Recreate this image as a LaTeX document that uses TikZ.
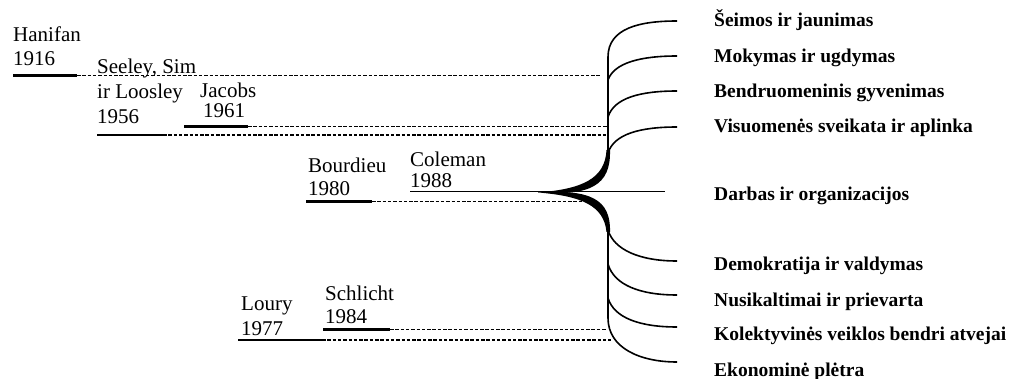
\documentclass[tikz,border=0pt]{standalone}
\usepackage{fontspec}
\setmainfont{Liberation Serif}
\begin{document}
\begin{tikzpicture}[x=1pt,y=-1pt,
  auth/.style={anchor=base west, inner sep=0pt, font=\fontsize{21}{21}\selectfont},
  topic/.style={anchor=base west, inner sep=0pt, font=\fontsize{19.5}{20}\selectfont\bfseries},
  solidln/.style={line width=2.5pt},
  dashln/.style={line width=1.6pt, dash pattern=on 3.5pt off 1.8pt},
  branch/.style={line width=1.6pt},
  thinln/.style={line width=1pt}]
\useasboundingbox (0,0) rectangle (1014,379);

% ---- author labels ----
\node[auth] (han)  at (13,41.7) {Hanifan};
\node[auth] (hany) at (13,66) {1916};
\node[auth] (see)  at (97,73.5) {Seeley, Sim};
\node[auth] (see2) at (97,98.3) {ir Loosley};
\node[auth] (seey) at (97,123.3) {1956};
\node[auth] (jac)  at (200,97.3) {Jacobs};
\node[auth] (jacy) at (203,117.3) {1961};
\node[auth] (bou)  at (308,173) {Bourdieu};
\node[auth] (bouy) at (308,196) {1980};
\node[auth] (col)  at (410,167) {Coleman};
\node[auth] (coly) at (410,188) {1988};
\node[auth] (lou)  at (241,310) {Loury};
\node[auth] (louy) at (241,335) {1977};
\node[auth] (sch)  at (325,300) {Schlicht};
\node[auth] (schy) at (325,323) {1984};

% ---- topic labels ----
\node[topic] (t1) at (714,27) {Šeimos ir jaunimas};
\node[topic] (t2) at (714,62.7) {Mokymas ir ugdymas};
\node[topic] (t3) at (714,97.5) {Bendruomeninis gyvenimas};
\node[topic] (t4) at (714,133) {Visuomenės sveikata ir aplinka};
\node[topic] (t5) at (714,200.7) {Darbas ir organizacijos};
\node[topic] (t6) at (714,270.7) {Demokratija ir valdymas};
\node[topic] (t7) at (714,306) {Nusikaltimai ir prievarta};
\node[topic] (t8) at (714,340.7) {Kolektyvinės veiklos bendri atvejai};
\node[topic] (t9) at (714,376.7) {Ekonominė plėtra};

% ---- timeline lines ----
\coordinate (hanA) at (13,75.5);  \coordinate (hanB) at (77,75.5);  \coordinate (hanC) at (600,75.5);
\coordinate (seeA) at (97,135);   \coordinate (seeB) at (163,135);  \coordinate (seeC) at (608,135);
\coordinate (jacA) at (184,126.5);\coordinate (jacB) at (248,126.5);\coordinate (jacC) at (608,126.5);
\coordinate (bouA) at (306,201.5);\coordinate (bouB) at (372,201.5);\coordinate (bouC) at (585,201.5);
\coordinate (colA) at (410,192);  \coordinate (colC) at (665,192);
\coordinate (schA) at (323,329.5);\coordinate (schB) at (390,329.5);\coordinate (schC) at (607,329.5);
\coordinate (louA) at (238,340);  \coordinate (louB) at (322,340);  \coordinate (louC) at (611,340);

\draw[solidln] (hanA) -- (hanB); \draw[dashln] (hanB) -- (hanC);
\draw[solidln] (seeA) -- (seeB); \draw[dashln] (seeB) -- (seeC);
\draw[solidln] (jacA) -- (jacB); \draw[dashln] (jacB) -- (jacC);
\draw[solidln] (bouA) -- (bouB); \draw[dashln] (bouB) -- (bouC);
\draw[thinln]  (colA) -- (colC);
\draw[solidln] (schA) -- (schB); \draw[dashln] (schB) -- (schC);
\draw[solidln] (louA) -- (louB); \draw[dashln] (louB) -- (louC);

% ---- tree ----
\coordinate (tip) at (538,192.5);
\coordinate (vtop) at (608,57);
\coordinate (vmid1) at (608,158);
\coordinate (vmid2) at (608,224);
\coordinate (vbot) at (608,318);
\draw[branch] (vtop) -- (vmid1);
\draw[branch] (vmid2) -- (vbot);
% thick curves (tapered)
\fill (tip) .. controls (582,189) and (605,179) .. (606.5,150)
      -- (610,150) .. controls (611,186) and (590,196) .. (tip) -- cycle;
\fill (tip) .. controls (590,189) and (611,199) .. (610,232)
      -- (606.5,232) .. controls (604,206) and (582,196) .. (tip) -- cycle;
% upper branches
\coordinate (e1) at (677,21);  \coordinate (e2) at (677,56);
\coordinate (e3) at (677,91);  \coordinate (e4) at (677,127);
\draw[branch] (vtop) .. controls (608,28) and (640,21) .. (e1);
\draw[branch] (608,80) .. controls (614,63) and (640,56) .. (e2);
\draw[branch] (608,117) .. controls (614,98) and (640,91) .. (e3);
\draw[branch] (608,153) .. controls (614,134) and (640,127) .. (e4);
% lower branches
\coordinate (f1) at (677,261); \coordinate (f2) at (677,295);
\coordinate (f3) at (677,327); \coordinate (f4) at (677,362);
\draw[branch] (608,230) .. controls (614,250) and (640,261) .. (f1);
\draw[branch] (608,264) .. controls (614,285) and (640,295) .. (f2);
\draw[branch] (608,298) .. controls (614,318) and (640,327) .. (f3);
\draw[branch] (vbot) .. controls (608,348) and (640,362) .. (f4);
\end{tikzpicture}
\end{document}
